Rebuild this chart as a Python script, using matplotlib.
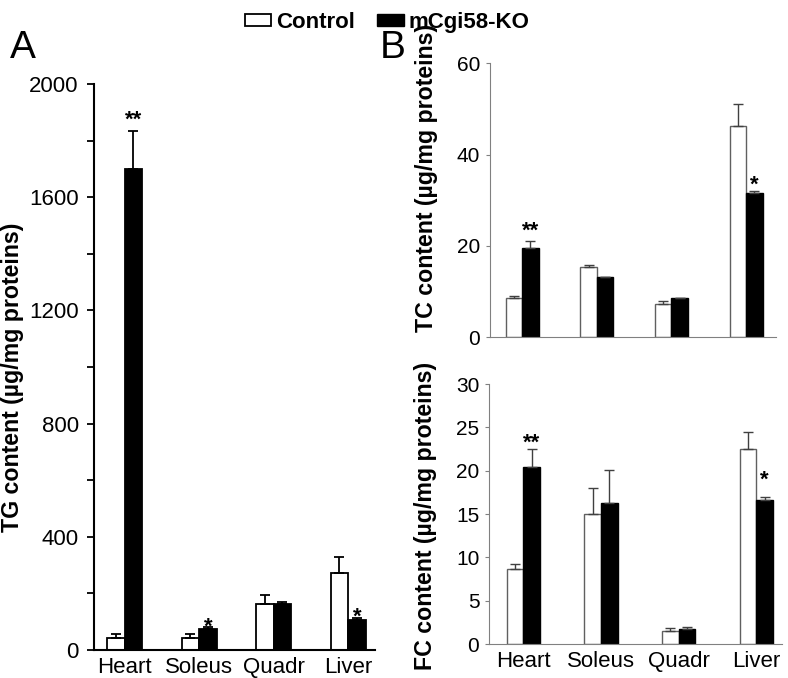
import numpy as np
import matplotlib.pyplot as plt
from matplotlib.patches import Patch
from matplotlib.ticker import MultipleLocator

plt.rcParams['font.family'] = ['Liberation Sans', 'DejaVu Sans']

# ──────────────────────────────────────────────
# DATA
# ──────────────────────────────────────────────
tissues = ['Heart', 'Soleus', 'Quadr', 'Liver']

# A: TG content
tg_ctrl     = [42, 42, 161, 273]
tg_ctrl_err = [16, 13, 33, 57]
tg_ko       = [1700, 74, 162, 106]
tg_ko_err   = [135, 6, 7, 8]
tg_stars    = ['**', '*', '', '*']
tg_star_y   = [1897, 106, 0, 141]

# B top: TC content
tc_ctrl     = [8.5, 15.3, 7.4, 46.3]
tc_ctrl_err = [0.5, 0.5, 0.5, 4.8]
tc_ko       = [19.5, 13.2, 8.5, 31.7]
tc_ko_err   = [1.6, 0.0, 0.0, 0.4]
tc_stars    = ['**', '', '', '*']
tc_star_y   = [24.8, 0, 0, 34.9]

# B bottom: FC content
fc_ctrl     = [8.7, 15.0, 1.5, 22.5]
fc_ctrl_err = [0.5, 3.0, 0.3, 2.0]
fc_ko       = [20.4, 16.3, 1.7, 16.6]
fc_ko_err   = [2.1, 3.8, 0.3, 0.4]
fc_stars    = ['**', '', '', '*']
fc_star_y   = [24.0, 0, 0, 19.7]


def draw_panel(ax, ctrl, ctrl_err, ko, ko_err, stars, star_y,
               width, axis_color, ctrl_edge, err_color, lw):
    x = np.arange(len(tissues))
    zeros = np.zeros(len(tissues))
    ekw = dict(ecolor=err_color, elinewidth=lw, capsize=3.5, capthick=lw)
    ax.bar(x - width / 2, ctrl, width, color='white', edgecolor=ctrl_edge,
           linewidth=lw, yerr=[zeros, ctrl_err], error_kw=ekw)
    ax.bar(x + width / 2, ko, width, color='black', edgecolor='black',
           linewidth=lw, yerr=[zeros, ko_err], error_kw=ekw)
    for xi, s, sy in zip(x, stars, star_y):
        if s:
            ax.annotate(s, (xi + width / 2, sy), xytext=(0, -9),
                        textcoords='offset points', ha='center',
                        va='baseline', fontsize=16, fontweight='bold')
    for side in ['top', 'right']:
        ax.spines[side].set_visible(False)
    for side in ['left', 'bottom']:
        ax.spines[side].set_color(axis_color)
    ax.set_xticks(x)
    ax.tick_params(axis='x', length=0, pad=5, labelsize=16)


fig = plt.figure(figsize=(7.88, 6.78), dpi=100)

# --- Panel A ---
axA = fig.add_axes([0.1193, 0.0413, 0.3566, 0.8348])
draw_panel(axA, tg_ctrl, tg_ctrl_err, tg_ko, tg_ko_err, tg_stars, tg_star_y,
           width=0.235, axis_color='black', ctrl_edge='black',
           err_color='black', lw=1.3)
axA.set_xlim(-0.41, 3.36)
axA.set_ylim(0, 2000)
axA.yaxis.set_major_locator(MultipleLocator(400))
axA.yaxis.set_minor_locator(MultipleLocator(200))
axA.tick_params(axis='y', which='both', direction='out', length=5,
                width=1.3, pad=6, labelsize=16)
axA.spines['left'].set_linewidth(1.5)
axA.spines['bottom'].set_linewidth(1.5)
axA.set_xticklabels(tissues)
axA.set_ylabel('TG content (µg/mg proteins)', fontsize=16.7,
               fontweight='bold')
axA.yaxis.set_label_coords(-0.249, 0.481)

# --- Panel B top ---
axT = fig.add_axes([0.6218, 0.5025, 0.3630, 0.4041])
draw_panel(axT, tc_ctrl, tc_ctrl_err, tc_ko, tc_ko_err, tc_stars, tc_star_y,
           width=0.22, axis_color='#808080', ctrl_edge='#606060',
           err_color='#404040', lw=1.0)
axT.set_xlim(-0.43, 3.40)
axT.set_ylim(0, 60)
axT.yaxis.set_major_locator(MultipleLocator(20))
axT.tick_params(axis='y', direction='out', length=3, color='#808080',
                pad=4, labelsize=15)
axT.set_xticklabels([])
axT.set_ylabel('TC content (µg/mg proteins)', fontsize=16.7,
               fontweight='bold')
axT.yaxis.set_label_coords(-0.182, 0.581)

# --- Panel B bottom ---
axF = fig.add_axes([0.6206, 0.0501, 0.3718, 0.3835])
draw_panel(axF, fc_ctrl, fc_ctrl_err, fc_ko, fc_ko_err, fc_stars, fc_star_y,
           width=0.215, axis_color='#808080', ctrl_edge='#606060',
           err_color='#404040', lw=1.0)
axF.set_xlim(-0.44, 3.33)
axF.set_ylim(0, 30)
axF.yaxis.set_major_locator(MultipleLocator(5))
axF.tick_params(axis='y', direction='out', length=3, color='#808080',
                pad=4, labelsize=15)
axF.set_xticklabels(tissues)
axF.set_ylabel('FC content (µg/mg proteins)', fontsize=16.7,
               fontweight='bold')
axF.yaxis.set_label_coords(-0.177, 0.492)

# Panel letters
fig.text(0.012, 0.915, 'A', fontsize=28)
fig.text(0.482, 0.915, 'B', fontsize=28)

# Shared legend
handles = [Patch(facecolor='white', edgecolor='black', linewidth=1.3),
           Patch(facecolor='black', edgecolor='black')]
fig.legend(handles, ['Control', 'mCgi58-KO'], loc='upper center',
           bbox_to_anchor=(0.491, 1.012), ncol=2, frameon=False,
           prop=dict(size=16, weight='bold'), handlelength=1.2,
           handleheight=0.45, handletextpad=0.2, columnspacing=1.0)

fig.savefig('out.png', dpi=100)
